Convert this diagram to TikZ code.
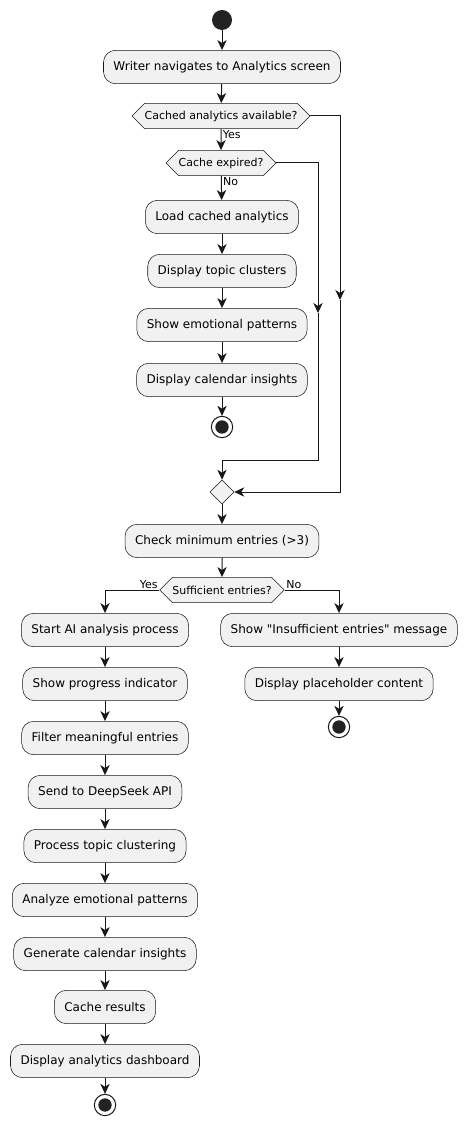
\documentclass[tikz,border=0pt]{standalone}
\usepackage{fontspec}
\setmainfont{DejaVu Sans}[Ligatures=TeXOff]
\usetikzlibrary{arrows.meta,shapes.symbols,shapes.geometric}
\definecolor{boxfill}{HTML}{F1F1F1}
\definecolor{inkline}{HTML}{181818}
\definecolor{dotfill}{HTML}{222222}

\begin{document}
\begin{tikzpicture}[x=0.75pt,y=-0.75pt,>={Stealth[length=7.5pt,width=7pt,inset=2.2pt]},
  action/.style={draw=inkline,fill=boxfill,line width=0.4pt,rounded corners=9pt,
    minimum height=25pt,inner xsep=7.5pt,font=\fontsize{9}{11}\selectfont},
  decision/.style={draw=inkline,fill=boxfill,line width=0.4pt,signal,
    signal to=west and east,signal pointer angle=90,minimum height=19pt,
    inner xsep=0pt,inner ysep=0pt,font=\fontsize{8.25}{10}\selectfont},
  merge/.style={draw=inkline,fill=boxfill,line width=0.4pt,diamond,
    minimum size=18pt,inner sep=0pt},
  startdot/.style={circle,fill=dotfill,minimum size=15pt,inner sep=0pt},
  stopdot/.style={circle,draw=inkline,line width=0.75pt,fill=white,
    minimum size=16pt,inner sep=0pt,
    path picture={\fill[dotfill] (path picture bounding box.center) circle (5pt);}},
  flow/.style={->,draw=inkline,line width=0.75pt},
  guard/.style={font=\fontsize{8.25}{10}\selectfont,inner sep=1pt}]
  \useasboundingbox (0,0) rectangle (466,1130);

  \node [startdot] (start)    at (222,20)  {};
  \node [action]   (nav)      at (222,67)  {Writer navigates to Analytics screen};
  \node [decision] (cached)   at (221,116) {Cached analytics available?};
  \node [decision] (expired)  at (221,163) {Cache expired?};
  \node [action]   (load)     at (222,217) {Load cached analytics};
  \node [action]   (topics)   at (222,271) {Display topic clusters};
  \node [action]   (patterns) at (222,325) {Show emotional patterns};
  \node [action]   (calendar) at (222,380) {Display calendar insights};
  \node [stopdot]  (end1)     at (222,427) {};
  \node [merge]    (join)     at (222,492) {};
  \node [action]   (check)    at (222,541) {Check minimum entries (>3)};
  \node [decision] (enough)   at (222,590) {Sufficient entries?};

  \node [action]   (startai)  at (105,630)  {Start AI analysis process};
  \node [action]   (progress) at (105,684)  {Show progress indicator};
  \node [action]   (filter)   at (105,738)  {Filter meaningful entries};
  \node [action]   (send)     at (105,792)  {Send to DeepSeek API};
  \node [action]   (cluster)  at (105,846)  {Process topic clustering};
  \node [action]   (emotion)  at (105,900)  {Analyze emotional patterns};
  \node [action]   (insight)  at (105,954)  {Generate calendar insights};
  \node [action]   (store)    at (105,1007) {Cache results};
  \node [action]   (dash)     at (105,1061) {Display analytics dashboard};
  \node [stopdot]  (end2)     at (105,1105) {};

  \node [action]   (insuff)   at (339,630) {Show "Insufficient entries" message};
  \node [action]   (holder)   at (339,684) {Display placeholder content};
  \node [stopdot]  (end3)     at (339,727) {};

  \coordinate (skipA) at (340,300);
  \coordinate (skipB) at (318,313);
  \coordinate (bendB) at (318,460);

  \draw [flow] (start) -- (nav);
  \draw [flow] (nav) -- (cached);
  \draw [flow] (cached) -- node [guard, at start, anchor=north west] {Yes} (expired);
  \draw [flow] (expired) -- node [guard, at start, anchor=north west] {No} (load);
  \draw [flow] (load) -- (topics);
  \draw [flow] (topics) -- (patterns);
  \draw [flow] (patterns) -- (calendar);
  \draw [flow] (calendar) -- (end1);
  \draw [flow] (expired.east) -| (skipB);
  \draw [flow] (skipB) -- (bendB) -| (join.north);
  \draw [flow] (cached.east) -| (skipA);
  \draw [flow] (skipA) |- (join.east);
  \draw [flow] (join) -- (check);
  \draw [flow] (check) -- (enough);

  \draw [flow] (enough.west) node [guard, anchor=south east] {Yes} -| (startai);
  \draw [flow] (enough.east) node [guard, anchor=south west] {No} -| (insuff);

  \draw [flow] (startai) -- (progress);
  \draw [flow] (progress) -- (filter);
  \draw [flow] (filter) -- (send);
  \draw [flow] (send) -- (cluster);
  \draw [flow] (cluster) -- (emotion);
  \draw [flow] (emotion) -- (insight);
  \draw [flow] (insight) -- (store);
  \draw [flow] (store) -- (dash);
  \draw [flow] (dash) -- (end2);

  \draw [flow] (insuff) -- (holder);
  \draw [flow] (holder) -- (end3);
\end{tikzpicture}
\end{document}
